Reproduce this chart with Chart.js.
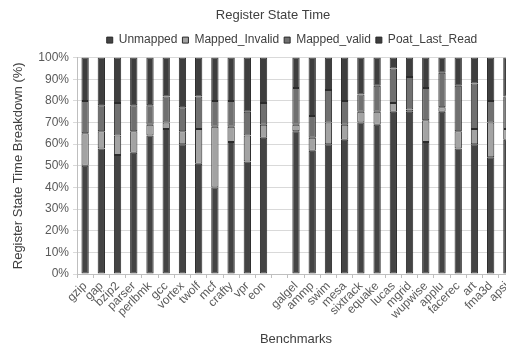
<!DOCTYPE html>
<html>
<head>
<meta charset="utf-8">
<script src="https://cdn.jsdelivr.net/npm/chart.js@4.4.1/dist/chart.umd.min.js"></script>
<style>
  html, body { margin: 0; padding: 0; background: #fff; overflow: hidden; }
  #wrap { width: 506px; height: 349px; overflow: hidden; }
</style>
</head>
<body>
<div id="wrap"><canvas id="canvas" width="546" height="349"></canvas></div>
<script>
// benchmarks (one empty slot separates the integer and FP groups)
var benchmarks = [
    "gzip", "gap", "bzip2", "parser", "perlbmk", "gcc", "vortex", "twolf", "mcf", "crafty", "vpr", "eon",
    "",
    "galgel", "ammp", "swim", "mesa", "sixtrack", "equake", "lucas", "mgrid", "wupwise", "applu", "facerec", "art", "fma3d", "apsi"
];

// share of time in each state (%)
var unmapped      = [50, 58, 55, 56, 64, 67, 60, 51, 40, 61, 52, 63, null, 66, 57, 60, 62, 70, 69, 75, 75, 61, 75, 58, 60, 54, 62];
var mappedInvalid = [15,  8,  9, 10,  5,  3,  6, 16, 28,  7, 12,  6, null,  3,  6, 10,  7,  5,  6,  4,  1, 10,  2,  8,  7, 16,  5];
var mappedValid   = [15, 12, 15, 12,  9, 12, 11, 15, 12, 12, 11, 10, null, 17, 10, 15, 11,  8, 12, 16, 15, 15, 16, 21, 21, 10, 15];
var postLastRead  = [20, 22, 21, 22, 22, 18, 23, 18, 20, 20, 25, 21, null, 14, 27, 15, 20, 17, 13,  5,  9, 14,  7, 13, 12, 20, 18];

var yTicks = [0, 10, 20, 30, 40, 50, 60, 70, 80, 90, 100];

// legend: a little right of the title, with some extra room below it
var legendTweak = {
    id: 'legendTweak',
    beforeLayout: function (chart) {
        var lg = chart.legend;
        if (lg && !lg._tweaked) {
            var fit = lg.fit;
            lg.fit = function () { fit.call(this); this.height += 1.5; };
            lg._tweaked = true;
        }
    },
    afterLayout: function (chart) {
        chart.legend.left += 19;
        chart.legend.right += 19;
    }
};

function inicializarChart() {
    var textColor = '#595959';
    var font = { family: 'Liberation Sans, Arial, sans-serif', size: 12 };

    var ds = function (label, data, color) {
        return {
            label: label,
            data: data,
            backgroundColor: color,
            borderColor: '#2b2b2b',
            borderWidth: 1,
            borderSkipped: false,
            barPercentage: 0.45,
            categoryPercentage: 1.0
        };
    };

    var config = {
        type: 'bar',
        data: {
            labels: benchmarks,
            datasets: [
                ds("Unmapped", unmapped, '#444444'),
                ds("Mapped_Invalid", mappedInvalid, '#a3a3a3'),
                ds("Mapped_valid", mappedValid, '#707070'),
                ds("Poat_Last_Read", postLastRead, '#3e3e3e')
            ]
        },
        plugins: [legendTweak],
        options: {
            responsive: false,
            animation: false,
            layout: { padding: { left: 31, right: 31, top: 0, bottom: 0 } },
            plugins: {
                title: {
                    display: true,
                    text: "Register State Time",
                    color: '#404040',
                    font: { family: font.family, size: 13, weight: 'normal' },
                    padding: { top: 8, bottom: 5.5 }
                },
                legend: {
                    display: true,
                    labels: {
                        color: '#404040',
                        font: font,
                        boxWidth: 6,
                        boxHeight: 6,
                        padding: 5
                    }
                },
                tooltip: { enabled: false }
            },
            scales: {
                x: {
                    stacked: true,
                    grid: {
                        display: true,
                        drawOnChartArea: false,
                        drawTicks: true,
                        tickLength: 4,
                        color: '#bfbfbf'
                    },
                    border: { color: '#bfbfbf' },
                    ticks: {
                        color: textColor,
                        font: font,
                        autoSkip: false,
                        minRotation: 45,
                        maxRotation: 45,
                        padding: 1
                    },
                    title: {
                        display: true,
                        text: "Benchmarks",
                        color: '#404040',
                        font: { family: font.family, size: 13 },
                        padding: { top: 4, bottom: 2 }
                    },
                    afterFit: function (scale) { scale.height = 75; }
                },
                y: {
                    stacked: true,
                    min: 0,
                    max: 100,
                    afterBuildTicks: function (scale) {
                        scale.ticks = yTicks.map(function (v) { return { value: v }; });
                    },
                    grid: {
                        color: '#d9d9d9',
                        tickLength: 4
                    },
                    border: { color: '#bfbfbf' },
                    ticks: {
                        color: textColor,
                        font: font,
                        padding: 4,
                        callback: function (v) { return v + '%'; }
                    },
                    title: {
                        display: true,
                        text: "Register State Time Breakdown (%)",
                        color: '#404040',
                        font: { family: font.family, size: 13 },
                        padding: { top: -20, bottom: 0 }
                    },
                    afterFit: function (scale) { scale.width = 46; }
                }
            }
        }
    };

    window.myBar = new Chart(document.getElementById("canvas"), config);
}

inicializarChart();
</script>
</body>
</html>
